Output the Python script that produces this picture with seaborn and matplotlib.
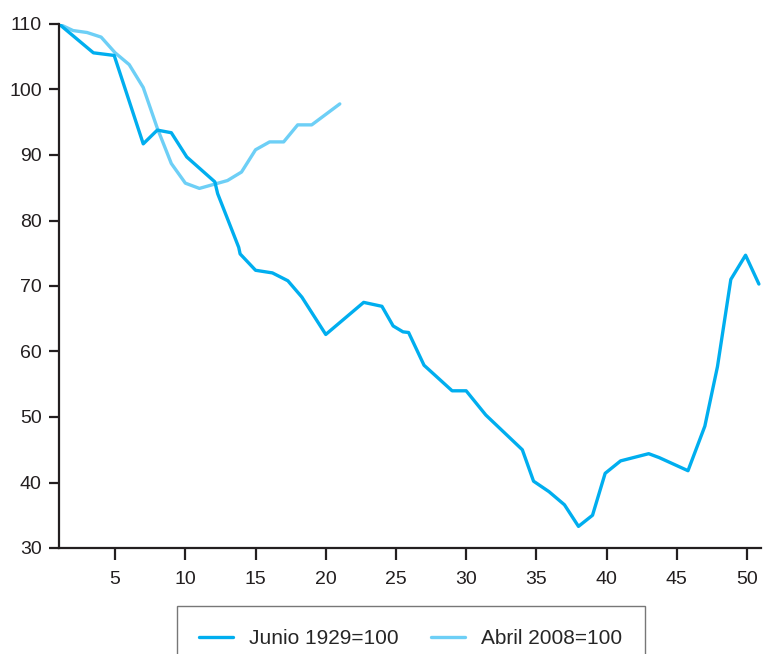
import numpy as np
import pandas as pd
import matplotlib
matplotlib.use("Agg")
import matplotlib.pyplot as plt
import seaborn as sns

# Junio 1929=100 (vertices)
x_1929 = [1, 3.45, 4.93, 7.0, 8.0, 9.0, 10.1, 12.1, 12.3, 13.8, 13.9, 15.0, 16.2,
          17.3, 18.3, 20.0, 22.7, 24.0, 24.8, 25.5, 25.9, 27.0, 29.0, 30.0, 31.4,
          34.0, 34.8, 35.9, 37.0, 38.0, 39.0, 39.9, 41.0, 43.0, 43.75, 45.8, 47.0,
          47.9, 48.85, 49.9, 50.85]
y_1929 = [110, 105.6, 105.2, 91.7, 93.8, 93.4, 89.7, 85.9, 84.1, 75.9, 74.9, 72.4, 72.0,
          70.8, 68.3, 62.6, 67.5, 66.9, 63.9, 63.0, 62.9, 57.9, 54.0, 54.0, 50.3,
          45.0, 40.2, 38.6, 36.6, 33.3, 35.0, 41.4, 43.3, 44.4, 43.8, 41.8, 48.6,
          57.7, 71.0, 74.7, 70.3]

# Abril 2008=100
x_2008 = list(range(1, 22))
y_2008 = [110, 109.0, 108.7, 108.0, 105.6, 103.8, 100.3, 94.1, 88.7, 85.7, 84.9,
          85.5, 86.1, 87.4, 90.8, 92.0, 92.0, 94.6, 94.6, 96.2, 97.8]

label_1929 = "Junio 1929=100"
label_2008 = "Abril 2008=100"
color_1929 = "#00AEEF"
color_2008 = "#6DCFF6"

sns.set_style("ticks")
plt.rcParams["font.family"] = ["Liberation Sans", "DejaVu Sans"]
dark = "#231f20"

fig = plt.figure(figsize=(7.65, 6.54), dpi=100)
ax = fig.add_axes([59 / 765, 1 - 548 / 654, (761 - 59) / 765, (548 - 24) / 654])

df_1929 = pd.DataFrame({"x": x_1929, "y": y_1929})
df_2008 = pd.DataFrame({"x": x_2008, "y": y_2008})

sns.lineplot(data=df_2008, x="x", y="y", ax=ax, color=color_2008, linewidth=2.4,
             label=label_2008, sort=False)
sns.lineplot(data=df_1929, x="x", y="y", ax=ax, color=color_1929, linewidth=2.4,
             label=label_1929, sort=False)

ax.set_xlim(1, 51)
ax.set_ylim(30, 110)
ax.set_xticks(np.arange(5, 51, 5))
ax.set_yticks(np.arange(30, 111, 10))
ax.set_xlabel("")
ax.set_ylabel("")
for side in ["top", "right"]:
    ax.spines[side].set_visible(False)
for side in ["left", "bottom"]:
    ax.spines[side].set_color(dark)
    ax.spines[side].set_linewidth(1.6)
ax.tick_params(axis="both", width=1.6, color=dark, labelcolor=dark, labelsize=14)
ax.tick_params(axis="x", length=8.5, pad=8)
ax.tick_params(axis="y", length=7.5, pad=5)
ax.grid(False)

ax.get_legend().remove()
handles, labels = ax.get_legend_handles_labels()
order = [labels.index(label_1929), labels.index(label_2008)]
leg = fig.legend([handles[i] for i in order], [labels[i] for i in order],
                 loc="upper center", bbox_to_anchor=(0.5372, 1 - 606 / 654),
                 ncol=2, frameon=True, fancybox=False, fontsize=15,
                 borderpad=1.1, handlelength=1.6, handletextpad=0.8,
                 columnspacing=1.55, borderaxespad=0)
leg.get_frame().set_edgecolor("#555555")
leg.get_frame().set_linewidth(1.0)

fig.savefig("out.png", dpi=100)
